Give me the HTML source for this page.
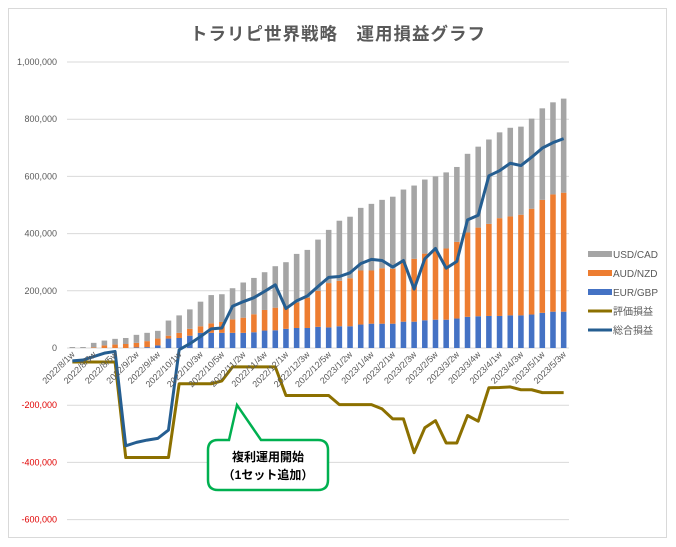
<!DOCTYPE html>
<html><head><meta charset="utf-8"><style>
html,body{margin:0;padding:0;background:#fff;}
svg{display:block;font-family:"Liberation Sans","Noto Sans CJK JP",sans-serif;}
</style></head><body>
<svg id="chart" width="676" height="547" viewBox="0 0 676 547" xmlns="http://www.w3.org/2000/svg">
<rect x="8.5" y="8.5" width="658" height="529" fill="#fff" stroke="#d9d9d9"/>
<text x="338" y="40" text-anchor="middle" font-size="17.5" font-weight="bold" fill="#595959" letter-spacing="1" font-family="'Liberation Sans','Noto Sans CJK JP',sans-serif">トラリピ世界戦略　運用損益グラフ</text>
<g id="grid"></g><g id="bars"></g><g id="lines"></g><g id="xlabels"></g><g id="ylabels"></g>
<g>
<path d="M218 440 L229 440 L237 405 L261 440 L318 440 Q328 440 328 450 L328 480 Q328 490 318 490 L218 490 Q208 490 208 480 L208 450 Q208 440 218 440 Z" fill="#fff" stroke="#00b050" stroke-width="2.5"/>
<text x="268" y="461" text-anchor="middle" font-size="12" font-weight="bold" fill="#000">複利運用開始</text>
<text x="268" y="479" text-anchor="middle" font-size="12" font-weight="bold" fill="#000">（1セット追加）</text>
</g>
<g id="legend"></g>
</svg>
<script>
const categories = ["2022/8/1w","2022/8/2w","2022/8/3w","2022/8/4w","2022/8/5w","2022/9/1w","2022/9/2w","2022/9/3w","2022/9/4w","2022/9/5w","2022/10/1w","2022/10/2w","2022/10/3w","2022/10/4w","2022/10/5w","2022/11/1w","2022/11/2w","2022/11/3w","2022/11/4w","2022/11/5w","2022/12/1w","2022/12/2w","2022/12/3w","2022/12/4w","2022/12/5w","2023/1/1w","2023/1/2w","2023/1/3w","2023/1/4w","2023/1/5w","2023/2/1w","2023/2/2w","2023/2/3w","2023/2/4w","2023/2/5w","2023/3/1w","2023/3/2w","2023/3/3w","2023/3/4w","2023/3/5w","2023/4/1w","2023/4/2w","2023/4/3w","2023/4/4w","2023/5/1w","2023/5/2w","2023/5/3w"];
const eurgbp = [0,0,0,0,0,0,2,3,9,33,35,43,53,53,53,53,53,55,61,62,67,70,70,74,72,76,76,82,85,85,85,92,92,97,99,99,103,109,111,112,112,114,114,117,123,127,127];
const audnzd = [0,0,2,9,12,14,16,21,24,10,18,24,23,33,38,47,53,63,72,79,80,89,106,126,155,159,168,189,186,194,192,211,220,233,243,249,268,295,310,322,342,346,352,370,395,410,416];
const usdcad = [3.5,3.5,16,17,20,21,28,29,27,53,61,68,86,99,97,109,123,127,132,145,153,170,167,179,186,210,215,219,233,239,252,251,256,259,258,266,262,275,283,295,300,310,308,315,320,322,329];
const hyouka = [-49,-49,-49,-49,-49,-383,-383,-383,-383,-383,-125,-125,-125,-125,-115,-66,-66,-66,-66,-66,-166,-166,-166,-166,-166,-198,-198,-198,-198,-213,-248,-248,-366,-279,-254,-332,-332,-236,-256,-139,-138,-136,-146,-146,-156,-156,-156];
const sogo = [-45,-42,-30,-18,-12,-342,-330,-322,-316,-287,-6,15,40,67,70,146,162,176,198,221,138,165,182,215,247,250,263,295,310,306,283,306,206,312,348,279,303,448,464,602,620,646,638,667,699,718,732];
const yTicks = [1000,800,600,400,200,0,-200,-400,-600];
const yTickLabels = ["1,000,000","800,000","600,000","400,000","200,000","0","-200,000","-400,000","-600,000"];

const NS="http://www.w3.org/2000/svg";
const X0=67, X1=569, Y0=348, PX=286/1000;
const band=(X1-X0)/categories.length;
function xs(i){return X0+band*(i+0.5);}
function ys(v){return Y0-v*PX;}
function mk(tag,attrs,parent){const e=document.createElementNS(NS,tag);for(const k in attrs)e.setAttribute(k,attrs[k]);parent.appendChild(e);return e;}

const grid=document.getElementById('grid'), yl=document.getElementById('ylabels');
yTicks.forEach((t,i)=>{
  const l=mk('line',{x1:X0,x2:X1,y1:ys(t),y2:ys(t),stroke:'#d9d9d9','stroke-width':1},grid);
  
  
  const tx=mk('text',{x:57,y:ys(t)+3,'text-anchor':'end','font-size':9,fill:t<0?'#e00000':'#595959'},yl);
  tx.textContent=yTickLabels[i];
  
  
});

const bars=document.getElementById('bars');
const bw=band*0.52;
const series=[[eurgbp,'#4472c4','bar-eur-gbp'],[audnzd,'#ed7d31','bar-aud-nzd'],[usdcad,'#a5a5a5','bar-usd-cad']];
categories.forEach((c,i)=>{
  let base=0;
  series.forEach(s=>{
    const v=s[0][i];
    if(v>0){
      const r=mk('rect',{x:xs(i)-bw/2,y:ys(base+v),width:bw,height:v*PX,fill:s[1]},bars);
      
      
    }
    base+=v;
  });
});

const lines=document.getElementById('lines');
function drawLine(arr,color,name){
  const p=mk('polyline',{points:arr.map((v,i)=>xs(i)+','+ys(v)).join(' '),fill:'none',stroke:color,'stroke-width':3,'stroke-linejoin':'round'},lines);
  
  
}
drawLine(hyouka,'#8c7000','line-hyouka-soneki');
drawLine(sogo,'#255e91','line-sogo-soneki');

const xl=document.getElementById('xlabels');
categories.forEach((c,i)=>{
  if(i%2!==0)return;
  const x=xs(i)+3, y=355;
  const t=mk('text',{x:x,y:y,'text-anchor':'end','font-size':9,fill:'#595959',transform:'rotate(-45 '+x+' '+y+')'},xl);
  t.textContent=c;
  
  
});

const lg=document.getElementById('legend');
const items=[['USD/CAD','#a5a5a5','rect'],['AUD/NZD','#ed7d31','rect'],['EUR/GBP','#4472c4','rect'],['評価損益','#8c7000','line'],['総合損益','#255e91','line']];
items.forEach((it,i)=>{
  const y=254+i*19;
  const g=mk('g',{},lg);
  
  
  if(it[2]==='rect') mk('rect',{x:588,y:y-3,width:24,height:6,fill:it[1]},g);
  else mk('line',{x1:588,x2:612,y1:y,y2:y,stroke:it[1],'stroke-width':3},g);
  const t=mk('text',{x:613,y:y+4,'font-size':10,fill:'#595959'},g);
  t.textContent=it[0];
});
</script>
</body></html>
